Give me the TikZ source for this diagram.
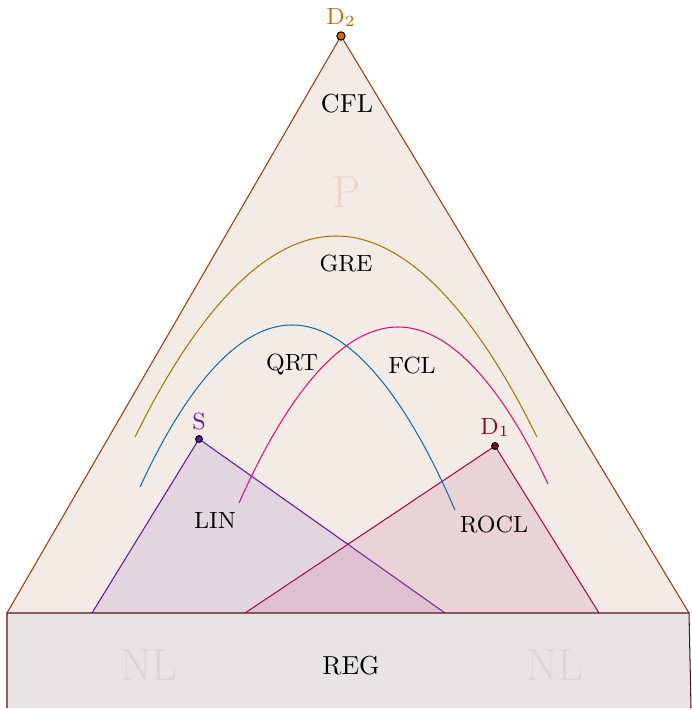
\documentclass[tikz,border=0pt]{standalone}
\usepackage{tikz}

\definecolor{fondoP}{RGB}{243,235,230}
\definecolor{bordeP}{RGB}{160,60,10}
\definecolor{fondoReg}{RGB}{232,228,228}
\definecolor{bordeReg}{RGB}{90,20,25}
\definecolor{colS}{RGB}{163,125,200}
\definecolor{lineaS}{RGB}{100,20,160}
\definecolor{colD}{RGB}{198,115,145}
\definecolor{lineaD}{RGB}{170,10,70}
\definecolor{colGRE}{RGB}{175,115,0}
\definecolor{colQRT}{RGB}{15,110,170}
\definecolor{colFCL}{RGB}{220,15,120}
\definecolor{colDdos}{RGB}{205,105,10}
\definecolor{colDuno}{RGB}{140,10,20}
\definecolor{textoP}{RGB}{236,214,200}
\definecolor{textoNL}{RGB}{219,213,213}

\begin{document}
\begin{tikzpicture}[x=0.0135cm, y=-0.0135cm, line width=0.4pt]
  \useasboundingbox (0,0) rectangle (691,710);
  % vertices
  \coordinate (D2) at (341,36);
  \coordinate (A) at (7,613);
  \coordinate (B) at (689,613);
  \coordinate (S) at (199,439);
  \coordinate (D1) at (495,446);

  % triangulo grande (P)
  \fill[fondoP] (D2) -- (A) -- (B) -- cycle;
  \draw[bordeP] (A) -- (D2) -- (B);
  \node[text=textoP, font=\LARGE] (P) at (347,192) {P};
  \node (CFL) at (347,104) {CFL};

  % regiones S y D1
  \filldraw[lineaS, fill=colS, fill opacity=0.2] (92,613) -- (S) -- (445,613);
  \filldraw[lineaD, fill=colD, fill opacity=0.2] (245,613) -- (D1) -- (599,613);

  % arcos parabolicos
  \draw[colGRE] (135,437) parabola bend (336,236) (537,437);
  \draw[colQRT] (140,487) parabola bend (292,325) (455,510);
  \draw[colFCL] (239,503) parabola bend (398,327) (548,484);
  \node[font=\small] (GRE) at (346,264) {GRE};
  \node[font=\small] (QRT) at (292,365) {QRT};
  \node[font=\small] (FCL) at (412,365) {FCL};
  \node[font=\small] (LIN) at (215,520) {LIN};
  \node[font=\small] (ROCL) at (494,524) {ROCL};

  % rectangulo inferior (REG)
  \filldraw[bordeReg, fill=fondoReg] (7,708) -- (A) -- (B) -- (691,708);
  \node (REG) at (351,666) {REG};
  \node[text=textoNL, font=\LARGE] (NLa) at (149,665) {NL};
  \node[text=textoNL, font=\LARGE] (NLb) at (555,665) {NL};

  % puntos
  \filldraw[fill=colDdos, draw=black] (D2) circle (1.6pt);
  \node[text=colDdos, font=\small, above=0pt] (D2l) at (D2) {D$_2$};
  \filldraw[fill=lineaS, draw=black] (S) circle (1.3pt);
  \node[text=lineaS, font=\small, above=0pt] (Sl) at (S) {S};
  \filldraw[fill=colDuno, draw=black] (D1) circle (1.3pt);
  \node[text=colDuno, font=\small, above=0pt] (D1l) at (D1) {D$_1$};
\end{tikzpicture}
\end{document}
